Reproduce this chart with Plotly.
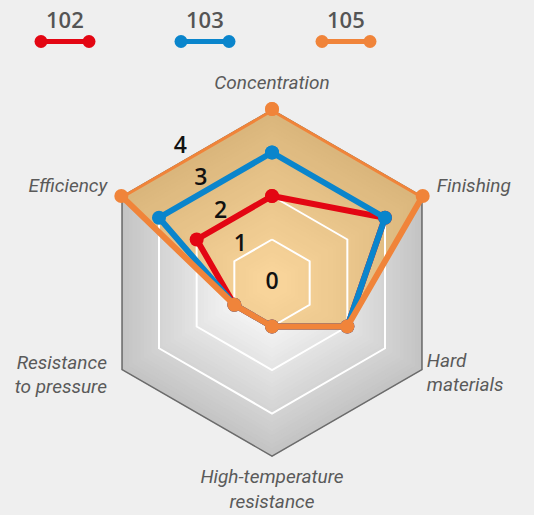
import plotly.graph_objects as go

# ---------------- data ----------------
categories = ["Concentration", "Finishing", "Hard materials",
              "High-temperature resistance", "Resistance to pressure", "Efficiency"]
axis_labels = ["Concentration", "Finishing", "Hard<br>materials",
               "High-temperature<br>resistance", "Resistance<br>to pressure", "Efficiency"]
series_names = ["102", "103", "105"]
v102 = [2, 3, 2, 1, 1, 2]
v103 = [3, 3, 2, 1, 1, 3]
v105 = [4, 4, 2, 1, 1, 4]
radial_ticks = [0, 1, 2, 3, 4]

RED = "#e30613"
BLUE = "#0a85cc"
ORANGE = "#f0843a"
W, H = 534, 515
CX, CY, R = 272, 283, 174
RMAX = 4
RMAX2 = 5  # overlay polar used for labels (same scale, wider range)
LABEL_FONT = dict(family="Roboto", size=19, color="#5a5a5a", style="italic")

def closed(vals):
    return list(vals) + [vals[0]]

theta_c = closed(categories)

fig = go.Figure()

# ---- background radial gradient (stack of hexagons) ----
N = 40
for i in range(N):
    r = RMAX * (N - i) / N
    g = int(round(255 - max(0.0, 16.5 * (r - 0.4))))
    g = max(0, min(255, g))
    fig.add_trace(go.Scatterpolar(
        r=[r] * 7, theta=theta_c, mode="lines", fill="toself",
        fillcolor=f"rgb({g},{g},{g})", line=dict(width=0, color=f"rgb({g},{g},{g})"),
        hoverinfo="skip", showlegend=False, subplot="polar"))

# outer border
fig.add_trace(go.Scatterpolar(
    r=[RMAX] * 7, theta=theta_c, mode="lines",
    line=dict(color="#6b6b6b", width=3), hoverinfo="skip",
    showlegend=False, subplot="polar"))

# orange fill
fig.add_trace(go.Scatterpolar(
    r=closed(v105), theta=theta_c, mode="lines", fill="toself",
    fillcolor="rgba(241,167,49,0.49)", line=dict(width=0, color=ORANGE),
    hoverinfo="skip", showlegend=False, subplot="polar"))

# white grid rings
for lvl in radial_ticks[1:-1]:
    fig.add_trace(go.Scatterpolar(
        r=[lvl] * 7, theta=theta_c, mode="lines",
        line=dict(color="white", width=2), hoverinfo="skip",
        showlegend=False, subplot="polar"))

# series lines
for name, vals, col in [("102", v102, RED), ("103", v103, BLUE), ("105", v105, ORANGE)]:
    fig.add_trace(go.Scatterpolar(
        r=closed(vals), theta=theta_c, mode="lines+markers", name=name,
        line=dict(color=col, width=6), marker=dict(color=col, size=14),
        showlegend=False, subplot="polar"))

# radial tick labels (placed between the rings, as in the original)
label_r = [0 if t == 0 else 0.25 + 0.88 * t for t in radial_ticks]
label_theta = [125, 130, 126, 124.5, 124]
fig.add_trace(go.Scatterpolar(
    r=label_r, theta=label_theta, mode="text",
    text=[str(t) for t in radial_ticks], textposition="middle center",
    textfont=dict(family="Open Sans", size=23, color="#111111", weight=600),
    hoverinfo="skip", showlegend=False, subplot="polar2", cliponaxis=False))

# multi-line category labels (vertically centred on their vertex)
ml_idx = [2, 3, 4]
ml_r = [4.13, 4.77, 4.36]
ml_theta = [-30.5, 270, 209.5]
ml_pos = ["middle right", "middle center", "middle left"]
fig.add_trace(go.Scatterpolar(
    r=ml_r, theta=ml_theta, mode="text",
    text=[axis_labels[i] for i in ml_idx], textposition=ml_pos,
    textfont=LABEL_FONT, hoverinfo="skip", showlegend=False, subplot="polar2",
    cliponaxis=False))

# ---- custom legend ----
leg_cols = [RED, BLUE, ORANGE]
leg_x0 = [41, 181, 322]
leg_len = 48
leg_y = 41.5
for name, col, x0 in zip(series_names, leg_cols, leg_x0):
    fig.add_trace(go.Scatter(
        x=[x0, x0 + leg_len], y=[leg_y, leg_y], mode="lines+markers",
        line=dict(color=col, width=5), marker=dict(color=col, size=13),
        hoverinfo="skip", showlegend=False, xaxis="x", yaxis="y"))
    fig.add_annotation(x=(x0 + leg_len / 2) / W, y=1 - 19 / H, xref="paper", yref="paper",
                       text=name, showarrow=False, xanchor="center", yanchor="middle",
                       font=dict(family="Open Sans", size=22, color="#555555", weight=600))

dom_x = [(CX - R) / W, (CX + R) / W]
dom_y = [1 - (CY + R) / H, 1 - (CY - R) / H]
R2 = R * RMAX2 / RMAX
dom_x2 = [(CX - R2) / W, (CX + R2) / W]
dom_y2 = [1 - (CY + R2) / H, 1 - (CY - R2) / H]

tick_text = [t if i not in ml_idx else "" for i, t in enumerate(axis_labels)]

fig.update_layout(
    width=W, height=H, autosize=False,
    margin=dict(l=0, r=0, t=0, b=0),
    paper_bgcolor="#efefef", plot_bgcolor="rgba(0,0,0,0)",
    showlegend=False,
    xaxis=dict(range=[0, W], domain=[0, 1], visible=False, fixedrange=True),
    yaxis=dict(range=[H, 0], domain=[0, 1], visible=False, fixedrange=True),
    polar=dict(
        domain=dict(x=dom_x, y=dom_y),
        bgcolor="rgba(0,0,0,0)",
        gridshape="linear",
        radialaxis=dict(range=[0, RMAX], visible=False, showgrid=False),
        angularaxis=dict(
            direction="clockwise", rotation=90, showgrid=False, showline=False,
            ticks="outside", ticklen=12, tickcolor="rgba(0,0,0,0)",
            tickvals=categories, ticktext=tick_text, tickfont=LABEL_FONT,
        ),
    ),
    polar2=dict(
        domain=dict(x=dom_x2, y=dom_y2),
        bgcolor="rgba(0,0,0,0)",
        radialaxis=dict(range=[0, RMAX2], visible=False),
        angularaxis=dict(rotation=0, direction="counterclockwise", visible=False),
    ),
)

fig.write_html("out.html", config={"displayModeBar": False},
               post_script="document.body.style.margin='0';document.body.style.overflow='hidden';")
